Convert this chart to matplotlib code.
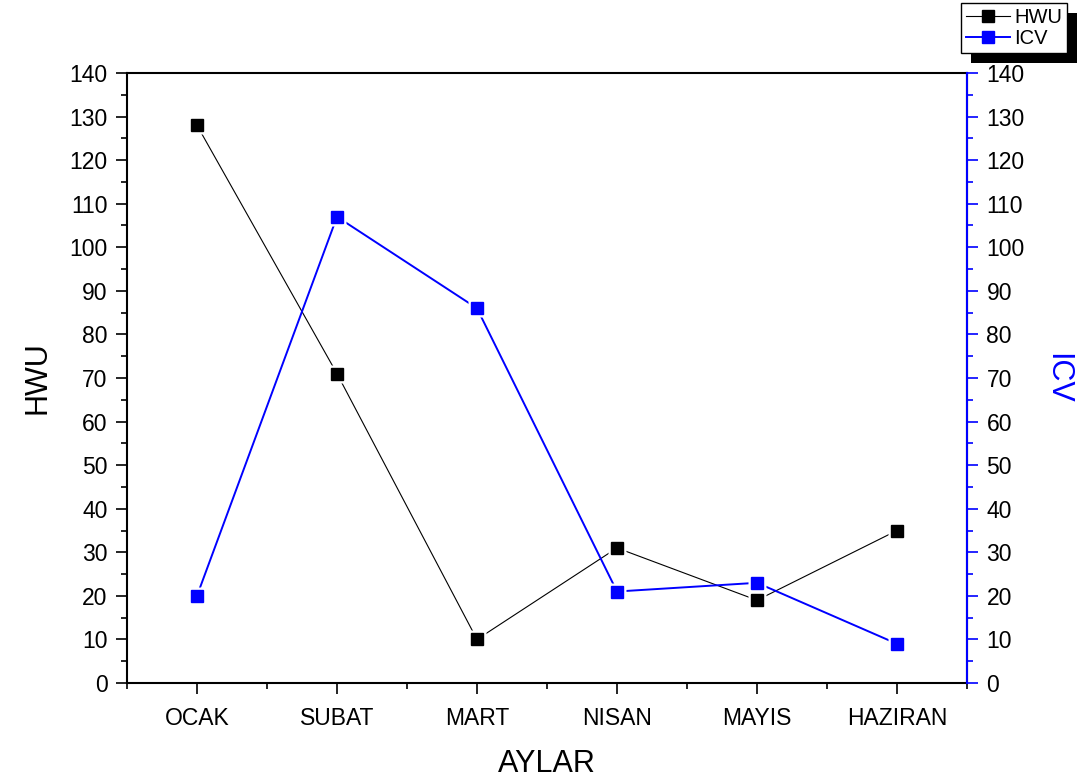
# -*- coding: utf-8 -*-

import matplotlib
matplotlib.use("Agg")
import matplotlib.pyplot as plt
from matplotlib.patches import Rectangle
from matplotlib.transforms import IdentityTransform
from matplotlib.ticker import MultipleLocator

plt.rcParams['font.family'] = ['Liberation Sans', 'DejaVu Sans']

# monthly values
months = ['OCAK', 'SUBAT', 'MART', 'NISAN', 'MAYIS', 'HAZIRAN']
hwu = [128, 71, 10, 31, 19, 35]
icv = [20, 107, 86, 21, 23, 9]

BLUE = '#0000ff'

fig = plt.figure(figsize=(10.88, 7.84), dpi=100)
ax = fig.add_axes([0.1167, 0.1288, 0.7721, 0.7781])
ax2 = ax.twinx()

x = list(range(len(months)))


def draw_series(a, xs, ys, color, lw, label):
    # line, then white squares so the line stops short of each point, then the points
    a.plot(xs, ys, color=color, lw=lw, zorder=2)
    a.plot(xs, ys, ls='none', marker='s', ms=13, mfc='white', mec='none', zorder=3)
    a.plot(xs, ys, ls='none', marker='s', ms=8, mfc=color, mec=color, zorder=4)
    proxy, = a.plot([], [], color=color, lw=lw, marker='s', ms=8.5, mfc=color, mec=color,
                    label=label)
    return proxy


p1 = draw_series(ax, x, hwu, 'black', 0.8, 'HWU')
p2 = draw_series(ax2, x, icv, BLUE, 1.4, 'ICV')

for a in (ax, ax2):
    a.set_xlim(-0.5, 5.5)
    a.set_ylim(0, 140)
    a.yaxis.set_major_locator(MultipleLocator(10))
    a.yaxis.set_minor_locator(MultipleLocator(5))

ax.set_xticks(x)
ax.set_xticklabels(months)
ax.xaxis.set_minor_locator(MultipleLocator(0.5))

ax.tick_params(axis='both', which='major', direction='out', length=8, width=1.2,
               labelsize=16.5, pad=6)
ax.tick_params(axis='x', which='major', pad=9)
ax.tick_params(axis='both', which='minor', direction='out', length=4, width=1.2)
ax.tick_params(axis='x', which='both', top=False)
ax.tick_params(axis='y', which='both', right=False)

ax2.tick_params(axis='y', which='major', direction='out', length=8, width=1.2,
                color=BLUE, labelsize=16.5, pad=6)
ax2.tick_params(axis='y', which='minor', direction='out', length=4, width=1.2,
                color=BLUE)

for s in ax.spines.values():
    s.set_linewidth(1.5)
for s in ax2.spines.values():
    s.set_linewidth(1.5)
ax2.spines['right'].set_color(BLUE)
ax2.spines['left'].set_visible(False)
ax2.spines['top'].set_visible(False)
ax2.spines['bottom'].set_visible(False)

ax.set_xlabel('AYLAR', fontsize=22, labelpad=14)
ax.set_ylabel('HWU', fontsize=22, labelpad=12)
ax2.set_ylabel('ICV', fontsize=22, color=BLUE, rotation=-90, labelpad=34)

leg = fig.legend(handles=[p1, p2], loc='upper right', bbox_to_anchor=(0.981, 0.996),
                 fontsize=14.5, frameon=True, fancybox=False, edgecolor='black',
                 framealpha=1, handlelength=2.2, handletextpad=0.2, borderpad=0.25,
                 labelspacing=0.1, borderaxespad=0)
leg.get_frame().set_linewidth(1.0)
leg.set_zorder(10)

# solid black drop shadow behind the legend box
fig.canvas.draw()
bb = leg.get_window_extent()
shadow = Rectangle((bb.x0 + 10, bb.y0 - 10), bb.width, bb.height,
                   transform=IdentityTransform(),
                   facecolor='black', edgecolor='none', zorder=9)
fig.add_artist(shadow)

fig.savefig('out.png', dpi=100)
